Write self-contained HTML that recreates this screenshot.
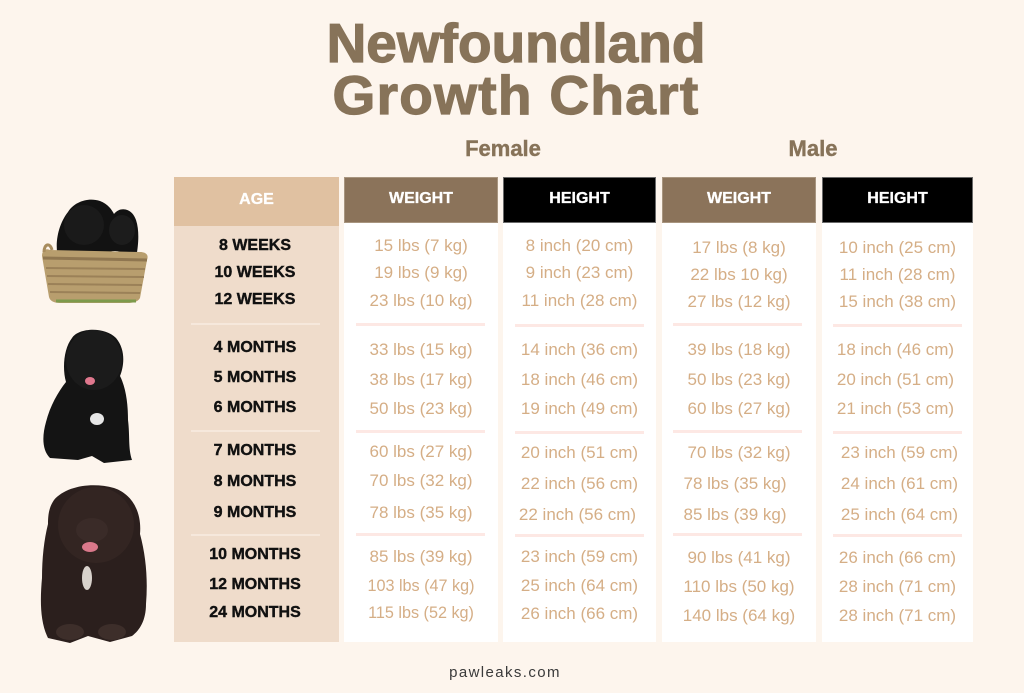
<!DOCTYPE html>
<html>
<head>
<meta charset="utf-8">
<style>
  html,body{margin:0;padding:0;}
  body{width:1024px;height:693px;background:#fdf5ed;position:relative;overflow:hidden;font-family:"Liberation Sans",Arial,sans-serif;}
  .abs{position:absolute;}
  .title{position:absolute;left:0;width:1032px;text-align:center;font-weight:bold;font-size:55px;line-height:54px;color:#877359;white-space:nowrap;-webkit-text-stroke:1.2px #877359;}
  .sub{position:absolute;font-weight:bold;font-size:22px;line-height:22px;color:#877359;white-space:nowrap;text-align:center;width:120px;-webkit-text-stroke:0.4px #877359;}
  .box{position:absolute;}
  .hdr{position:absolute;color:#fff;font-weight:bold;font-size:16px;line-height:20px;text-align:center;-webkit-text-stroke:0.3px #fff;}
  .t{position:absolute;height:20px;line-height:20px;text-align:center;white-space:nowrap;}
  .age{font-weight:bold;font-size:16px;color:#111;-webkit-text-stroke:0.4px #111;}
  .v{font-size:17px;color:#d5ae86;}
  .sep{position:absolute;height:3px;background:#fde8e4;}
  .asep{position:absolute;height:2px;background:#f6e8dc;}
</style>
</head>
<body>

<div class="title" style="top:16px;">Newfoundland</div>
<div class="title" style="top:68px;letter-spacing:1.3px;">Growth Chart</div>

<div class="sub" style="left:443px;top:138px;">Female</div>
<div class="sub" style="left:753px;top:138px;">Male</div>

<!-- Column boxes -->
<div class="box" style="left:174px;top:177px;width:165px;height:49px;background:#e0c1a1;"></div>
<div class="box" style="left:174px;top:226px;width:165px;height:416px;background:#efdccb;"></div>

<div class="box" style="left:344px;top:223px;width:154px;height:419px;background:#fff;"></div>
<div class="box" style="left:503px;top:223px;width:153px;height:419px;background:#fff;"></div>
<div class="box" style="left:662px;top:223px;width:154px;height:419px;background:#fff;"></div>
<div class="box" style="left:822px;top:223px;width:151px;height:419px;background:#fff;"></div>

<div class="box" style="left:344px;top:177px;width:154px;height:46px;background:#8b735a;box-shadow:inset 0 0 0 1px #a8957f;"></div>
<div class="box" style="left:503px;top:177px;width:153px;height:46px;background:#000;box-shadow:inset 0 0 0 1px #6a6a6a;"></div>
<div class="box" style="left:662px;top:177px;width:154px;height:46px;background:#8b735a;box-shadow:inset 0 0 0 1px #a8957f;"></div>
<div class="box" style="left:822px;top:177px;width:151px;height:46px;background:#000;box-shadow:inset 0 0 0 1px #6a6a6a;"></div>

<div class="hdr" style="left:174px;width:165px;top:190px;">AGE</div>
<div class="hdr" style="left:344px;width:154px;top:189px;">WEIGHT</div>
<div class="hdr" style="left:503px;width:153px;top:189px;">HEIGHT</div>
<div class="hdr" style="left:662px;width:154px;top:189px;">WEIGHT</div>
<div class="hdr" style="left:822px;width:151px;top:189px;">HEIGHT</div>

<!-- separators -->
<div class="asep" style="left:191px;width:129px;top:323px;"></div>
<div class="asep" style="left:191px;width:129px;top:430px;"></div>
<div class="asep" style="left:191px;width:129px;top:534px;"></div>

<div class="sep" style="left:356px;width:129px;top:323px;"></div>
<div class="sep" style="left:356px;width:129px;top:430px;"></div>
<div class="sep" style="left:356px;width:129px;top:533px;"></div>

<div class="sep" style="left:515px;width:129px;top:324px;"></div>
<div class="sep" style="left:515px;width:129px;top:431px;"></div>
<div class="sep" style="left:515px;width:129px;top:534px;"></div>

<div class="sep" style="left:673px;width:129px;top:323px;"></div>
<div class="sep" style="left:673px;width:129px;top:430px;"></div>
<div class="sep" style="left:673px;width:129px;top:533px;"></div>

<div class="sep" style="left:833px;width:129px;top:324px;"></div>
<div class="sep" style="left:833px;width:129px;top:431px;"></div>
<div class="sep" style="left:833px;width:129px;top:534px;"></div>

<!-- Age column -->
<div class="t age" style="left:174px;width:162px;top:236px;">8 WEEKS</div>
<div class="t age" style="left:174px;width:162px;top:263px;">10 WEEKS</div>
<div class="t age" style="left:174px;width:162px;top:290px;">12 WEEKS</div>
<div class="t age" style="left:174px;width:162px;top:338px;">4 MONTHS</div>
<div class="t age" style="left:174px;width:162px;top:368px;">5 MONTHS</div>
<div class="t age" style="left:174px;width:162px;top:398px;">6 MONTHS</div>
<div class="t age" style="left:174px;width:162px;top:441px;">7 MONTHS</div>
<div class="t age" style="left:174px;width:162px;top:472px;">8 MONTHS</div>
<div class="t age" style="left:174px;width:162px;top:503px;">9 MONTHS</div>
<div class="t age" style="left:174px;width:162px;top:545px;">10 MONTHS</div>
<div class="t age" style="left:174px;width:162px;top:575px;">12 MONTHS</div>
<div class="t age" style="left:174px;width:162px;top:603px;">24 MONTHS</div>

<!-- Female weight -->
<div class="t v" style="left:344px;width:154px;top:236px;">15 lbs (7 kg)</div>
<div class="t v" style="left:344px;width:154px;top:263px;">19 lbs (9 kg)</div>
<div class="t v" style="left:344px;width:154px;top:291px;">23 lbs (10 kg)</div>
<div class="t v" style="left:344px;width:154px;top:340px;">33 lbs (15 kg)</div>
<div class="t v" style="left:344px;width:154px;top:370px;">38 lbs (17 kg)</div>
<div class="t v" style="left:344px;width:154px;top:399px;">50 lbs (23 kg)</div>
<div class="t v" style="left:344px;width:154px;top:442px;">60 lbs (27 kg)</div>
<div class="t v" style="left:344px;width:154px;top:471px;">70 lbs (32 kg)</div>
<div class="t v" style="left:344px;width:154px;top:503px;">78 lbs (35 kg)</div>
<div class="t v" style="left:344px;width:154px;top:547px;">85 lbs (39 kg)</div>
<div class="t v" style="left:344px;width:154px;top:576px;font-size:16.2px;">103 lbs (47 kg)</div>
<div class="t v" style="left:344px;width:154px;top:603px;font-size:16.2px;">115 lbs (52 kg)</div>

<!-- Female height -->
<div class="t v" style="left:503px;width:153px;top:236px;">8 inch (20 cm)</div>
<div class="t v" style="left:503px;width:153px;top:263px;">9 inch (23 cm)</div>
<div class="t v" style="left:503px;width:153px;top:291px;">11 inch (28 cm)</div>
<div class="t v" style="left:503px;width:153px;top:340px;">14 inch (36 cm)</div>
<div class="t v" style="left:503px;width:153px;top:370px;">18 inch (46 cm)</div>
<div class="t v" style="left:503px;width:153px;top:399px;">19 inch (49 cm)</div>
<div class="t v" style="left:503px;width:153px;top:443px;">20 inch (51 cm)</div>
<div class="t v" style="left:503px;width:153px;top:474px;">22 inch (56 cm)</div>
<div class="t v" style="left:501px;width:153px;top:505px;">22 inch (56 cm)</div>
<div class="t v" style="left:503px;width:153px;top:547px;">23 inch (59 cm)</div>
<div class="t v" style="left:503px;width:153px;top:576px;">25 inch (64 cm)</div>
<div class="t v" style="left:503px;width:153px;top:604px;">26 inch (66 cm)</div>

<!-- Male weight -->
<div class="t v" style="left:662px;width:154px;top:238px;">17 lbs (8 kg)</div>
<div class="t v" style="left:662px;width:154px;top:265px;">22 lbs 10 kg)</div>
<div class="t v" style="left:662px;width:154px;top:292px;">27 lbs (12 kg)</div>
<div class="t v" style="left:662px;width:154px;top:340px;">39 lbs (18 kg)</div>
<div class="t v" style="left:662px;width:154px;top:370px;">50 lbs (23 kg)</div>
<div class="t v" style="left:662px;width:154px;top:399px;">60 lbs (27 kg)</div>
<div class="t v" style="left:662px;width:154px;top:443px;">70 lbs (32 kg)</div>
<div class="t v" style="left:658px;width:154px;top:474px;">78 lbs (35 kg)</div>
<div class="t v" style="left:658px;width:154px;top:505px;">85 lbs (39 kg)</div>
<div class="t v" style="left:662px;width:154px;top:548px;">90 lbs (41 kg)</div>
<div class="t v" style="left:662px;width:154px;top:577px;">110 lbs (50 kg)</div>
<div class="t v" style="left:662px;width:154px;top:606px;">140 lbs (64 kg)</div>

<!-- Male height -->
<div class="t v" style="left:822px;width:151px;top:238px;">10 inch (25 cm)</div>
<div class="t v" style="left:822px;width:151px;top:265px;">11 inch (28 cm)</div>
<div class="t v" style="left:822px;width:151px;top:292px;">15 inch (38 cm)</div>
<div class="t v" style="left:820px;width:151px;top:340px;">18 inch (46 cm)</div>
<div class="t v" style="left:820px;width:151px;top:370px;">20 inch (51 cm)</div>
<div class="t v" style="left:820px;width:151px;top:399px;">21 inch (53 cm)</div>
<div class="t v" style="left:824px;width:151px;top:443px;">23 inch (59 cm)</div>
<div class="t v" style="left:824px;width:151px;top:474px;">24 inch (61 cm)</div>
<div class="t v" style="left:824px;width:151px;top:505px;">25 inch (64 cm)</div>
<div class="t v" style="left:822px;width:151px;top:548px;">26 inch (66 cm)</div>
<div class="t v" style="left:822px;width:151px;top:577px;">28 inch (71 cm)</div>
<div class="t v" style="left:822px;width:151px;top:606px;">28 inch (71 cm)</div>

<!-- Footer -->
<div class="abs" style="left:405px;width:200px;top:665px;text-align:center;font-size:15px;line-height:15px;letter-spacing:1.4px;color:#3a3a3a;">pawleaks.com</div>

<!-- Dogs -->
<svg class="abs" style="left:0;top:0;" width="174" height="693" viewBox="0 0 174 693">
  <!-- Dog group 1: puppies in basket -->
  <path d="M58,258 C54,240 60,222 68,212 C74,202 88,197 100,201 C108,204 112,210 114,214 C120,206 132,208 136,220 C140,232 138,248 136,258 Z" fill="#121212"/>
  <ellipse cx="84" cy="225" rx="20" ry="20" fill="#1a1a1a"/>
  <ellipse cx="122" cy="230" rx="13" ry="15" fill="#1c1c1c"/>
  <ellipse cx="115" cy="255" rx="8" ry="4" fill="#e8e8e8"/>
  <ellipse cx="131" cy="257" rx="7" ry="4" fill="#f0f0f0"/>
  <path d="M42,256 C42,250 46,248 50,250 L140,252 C146,252 149,255 147,260 L140,298 C138,302 132,303 128,303 L60,303 C54,303 50,301 49,297 Z" fill="#b89e6e"/>
  <path d="M43,258 L147,260" stroke="#8f7650" stroke-width="3"/>
  <path d="M46,268 L145,269 M47,276 L144,277 M48,284 L142,285 M50,292 L140,293" stroke="#9b8158" stroke-width="2"/>
  <path d="M44,252 C44,244 50,242 52,250" stroke="#a88c5e" stroke-width="3" fill="none"/>
  <path d="M56,301 L136,301" stroke="#7d9a4c" stroke-width="3"/>

  <!-- Dog 2: black puppy sitting -->
  <path d="M72,338 C78,328 104,326 116,338 C126,350 124,366 120,376 C126,388 128,404 128,420 C130,436 128,448 132,460 L104,463 L92,456 L78,460 L50,458 C42,450 42,436 46,422 C50,406 58,392 66,382 C62,368 64,348 72,338 Z" fill="#141414"/>
  <ellipse cx="94" cy="360" rx="28" ry="30" fill="#1b1b1b"/>
  <ellipse cx="90" cy="381" rx="5" ry="4" fill="#e0788e"/>
  <ellipse cx="97" cy="419" rx="7" ry="6" fill="#e6e6e6"/>

  <!-- Dog 3: adult lying dark brown -->
  <path d="M54,500 C66,486 92,482 114,488 C132,494 142,512 140,534 C146,556 148,580 146,604 C146,620 140,630 132,636 L110,642 L88,636 L70,643 L48,638 C40,622 40,600 42,578 C42,558 44,540 48,524 C48,512 50,506 54,500 Z" fill="#2b1f1d"/>
  <ellipse cx="96" cy="525" rx="38" ry="38" fill="#332522"/>
  <ellipse cx="92" cy="530" rx="16" ry="12" fill="#3a2b28"/>
  <ellipse cx="90" cy="547" rx="8" ry="5" fill="#d9788a"/>
  <ellipse cx="87" cy="578" rx="5" ry="12" fill="#d8d2cc"/>
  <ellipse cx="70" cy="632" rx="14" ry="8" fill="#3d2e2a"/>
  <ellipse cx="112" cy="632" rx="14" ry="8" fill="#3d2e2a"/>
</svg>

</body>
</html>
